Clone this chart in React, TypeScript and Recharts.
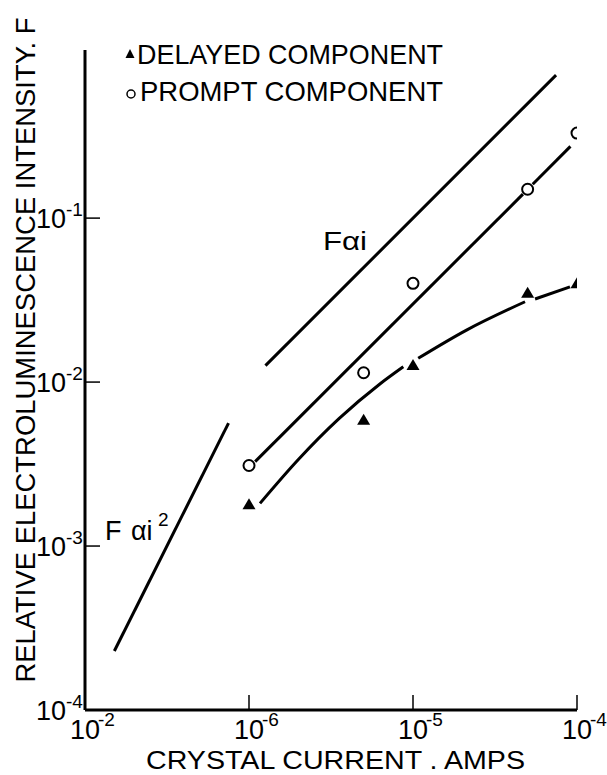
import React from 'react';
import { ComposedChart, Line, Scatter, XAxis, YAxis } from 'recharts';

const FONT = '"Liberation Sans", Arial, Helvetica, sans-serif';

// Axis ticks (log decades) and their printed exponents
const X_TICKS = [1e-7, 1e-6, 1e-5, 1e-4];
const X_TICK_EXPONENTS = ['-2', '-6', '-5', '-4'];
const Y_TICKS = [1e-4, 1e-3, 1e-2, 1e-1];
const Y_TICK_EXPONENTS = ['-4', '-3', '-2', '-1'];

// Measured points: crystal current (A) vs relative intensity F
const CURRENT_AMPS = [1e-6, 5e-6, 1e-5, 5e-5, 1e-4];
const PROMPT_F = [0.0031, 0.0114, 0.04, 0.15, 0.33];
const DELAYED_F = [0.0018, 0.0059, 0.0127, 0.035, 0.04];

// Hand-drawn curve through prompt points (broken at the 5e-5 point)
const PROMPT_FIT1_I = [1.09e-6, 4.68e-5];
const PROMPT_FIT1_F = [0.00327, 0.14];
const PROMPT_FIT2_I = [5.37e-5, 9.12e-5];
const PROMPT_FIT2_F = [0.161, 0.274];

// Hand-drawn curve through delayed points (broken at 1e-5 and 5e-5)
const DELAYED_FIT1_I = [1.167e-6, 2.0e-6, 3.55e-6, 6.31e-6, 8.73e-6];
const DELAYED_FIT1_F = [0.00182, 0.00337, 0.006, 0.00977, 0.0124];
const DELAYED_FIT2_I = [1.076e-5, 2.12e-5, 4.82e-5];
const DELAYED_FIT2_F = [0.01396, 0.02075, 0.0309];
const DELAYED_FIT3_I = [5.55e-5, 9.06e-5];
const DELAYED_FIT3_F = [0.0321, 0.0381];

// Reference slopes F ~ i and F ~ i^2
const FAI_I = [1.26e-6, 7.45e-5];
const FAI_F = [0.0126, 0.745];
const FAI2_I = [1.51e-7, 7.5e-7];
const FAI2_F = [2.29e-4, 5.62e-3];

const toPts = (xs: number[], ys: number[]) => xs.map((x, i) => ({ x, y: ys[i] }));

const findIdx = (ticks: number[], v: number) =>
  ticks.findIndex((t) => Math.abs(Math.log10(t) - Math.log10(v)) < 1e-6);

const XTick = (props: any) => {
  const { x, y, payload } = props;
  const i = findIdx(X_TICKS, payload.value);
  return (
    <g>
      {i > 0 && <line x1={x} x2={x} y1={y} y2={y - 15} stroke="#000" strokeWidth={1.5} />}
      <text x={x} y={y + 29} textAnchor="middle" fontFamily={FONT} fontSize={27} fill="#000">
        10
      </text>
      <text x={x + 13} y={y + 16} fontFamily={FONT} fontSize={19} fill="#000">
        {X_TICK_EXPONENTS[i]}
      </text>
    </g>
  );
};

const YTick = (props: any) => {
  const { x, y, payload } = props;
  const i = findIdx(Y_TICKS, payload.value);
  return (
    <g>
      {i > 0 && <line x1={x} x2={x + 15} y1={y} y2={y} stroke="#000" strokeWidth={1.5} />}
      <text x={x - 19} y={y + 10} textAnchor="end" fontFamily={FONT} fontSize={27} fill="#000">
        10
      </text>
      <text x={x - 19} y={y - 2} fontFamily={FONT} fontSize={19} fill="#000">
        {Y_TICK_EXPONENTS[i]}
      </text>
    </g>
  );
};

const Triangle = (props: any) => {
  const { cx, cy } = props;
  if (cx == null || cy == null) return <g />;
  return <polygon points={`${cx},${cy - 6} ${cx - 6.5},${cy + 5} ${cx + 6.5},${cy + 5}`} fill="#000" />;
};

const OpenCircle = (props: any) => {
  const { cx, cy } = props;
  if (cx == null || cy == null) return <g />;
  return <circle cx={cx} cy={cy} r={5.5} fill="#fff" stroke="#000" strokeWidth={2} />;
};

const lineProps = {
  dataKey: 'y',
  stroke: '#000',
  strokeWidth: 3,
  dot: false,
  activeDot: false,
  isAnimationActive: false,
  legendType: 'none' as const,
};

export default function App() {
  return (
    <div style={{ position: 'absolute', left: 0, top: 0, width: 607, height: 775, background: '#fff' }}>
      <ComposedChart width={607} height={775} margin={{ top: 50, right: 30, bottom: 0, left: 0 }}>
        <XAxis
          type="number"
          dataKey="x"
          scale="log"
          domain={[1e-7, 1e-4]}
          allowDataOverflow
          ticks={X_TICKS}
          interval={0}
          tick={<XTick />}
          tickSize={0}
          tickMargin={0}
          tickLine={false}
          axisLine={{ stroke: '#000', strokeWidth: 3 }}
          height={65}
        />
        <YAxis
          type="number"
          dataKey="y"
          scale="log"
          domain={[1e-4, 1.06]}
          allowDataOverflow
          ticks={Y_TICKS}
          interval={0}
          tick={<YTick />}
          tickSize={0}
          tickMargin={0}
          tickLine={false}
          axisLine={{ stroke: '#000', strokeWidth: 3 }}
          width={85}
        />
        <Line {...lineProps} data={toPts(FAI_I, FAI_F)} type="linear" />
        <Line {...lineProps} data={toPts(FAI2_I, FAI2_F)} type="linear" />
        <Line {...lineProps} data={toPts(PROMPT_FIT1_I, PROMPT_FIT1_F)} type="linear" />
        <Line {...lineProps} data={toPts(PROMPT_FIT2_I, PROMPT_FIT2_F)} type="linear" />
        <Line {...lineProps} data={toPts(DELAYED_FIT1_I, DELAYED_FIT1_F)} type="monotone" />
        <Line {...lineProps} data={toPts(DELAYED_FIT2_I, DELAYED_FIT2_F)} type="monotone" />
        <Line {...lineProps} data={toPts(DELAYED_FIT3_I, DELAYED_FIT3_F)} type="monotone" />
        <Scatter
          data={toPts(CURRENT_AMPS, PROMPT_F)}
          dataKey="y"
          shape={<OpenCircle />}
          isAnimationActive={false}
        />
        <Scatter
          data={toPts(CURRENT_AMPS, DELAYED_F)}
          dataKey="y"
          shape={<Triangle />}
          isAnimationActive={false}
        />
      </ComposedChart>
      <svg
        width={607}
        height={775}
        style={{ position: 'absolute', left: 0, top: 0, pointerEvents: 'none' }}
      >
        <g fontFamily={FONT} fill="#000">
          <text
            transform="translate(35,350) rotate(-90)"
            textAnchor="middle"
            fontSize={27}
            textLength={665}
            lengthAdjust="spacingAndGlyphs"
          >
            RELATIVE ELECTROLUMINESCENCE INTENSITY. F
          </text>
          <text x={146} y={769} fontSize={26} textLength={379} lengthAdjust="spacingAndGlyphs">
            CRYSTAL CURRENT . AMPS
          </text>
          <polygon points="130,49 125.5,58 134.5,58" fill="#000" />
          <text x={137} y={64} fontSize={28} textLength={306} lengthAdjust="spacingAndGlyphs">
            DELAYED COMPONENT
          </text>
          <circle cx={131} cy={94} r={4} fill="#fff" stroke="#000" strokeWidth={1.5} />
          <text x={140} y={101} fontSize={28} textLength={303} lengthAdjust="spacingAndGlyphs">
            PROMPT COMPONENT
          </text>
          <text x={323} y={250} fontSize={26} textLength={44} lengthAdjust="spacingAndGlyphs">
            Fαi
          </text>
          <text x={105} y={540} fontSize={27}>
            F
          </text>
          <text x={131} y={540} fontSize={27}>
            αi
          </text>
          <text x={158} y={526} fontSize={19}>
            2
          </text>
        </g>
      </svg>
    </div>
  );
}
